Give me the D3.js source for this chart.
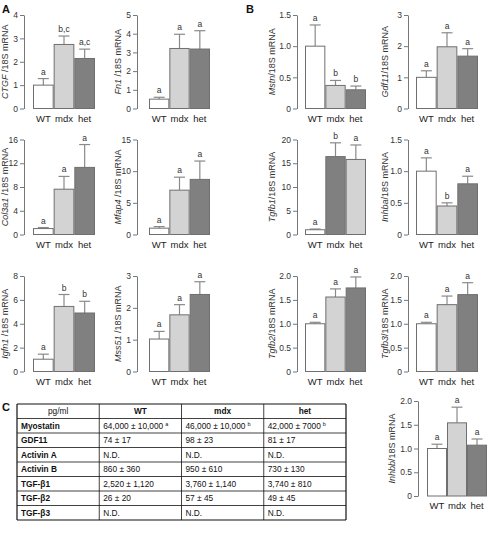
<!DOCTYPE html>
<html><head><meta charset="utf-8">
<script src="https://cdn.jsdelivr.net/npm/d3@7"></script>
<style>body{margin:0;background:#fff}svg{display:block}</style>
</head><body>
<svg id="c" width="501" height="545"></svg>
<script>
// ---------- DATA ----------
const categories = ["WT", "mdx", "het"];

// Panel A
const ctgfMean = [1.0, 2.74, 2.14];
const ctgfSem = [0.28, 0.36, 0.40];
const ctgfSig = ["a", "b,c", "a,c"];
const ctgfTicks = [0, 1, 2, 3, 4];

const fn1Mean = [0.50, 3.21, 3.18];
const fn1Sem = [0.10, 0.76, 0.98];
const fn1Sig = ["a", "a", "a"];
const fn1Ticks = [0, 1, 2, 3, 4, 5];

const col3a1Mean = [1.0, 7.63, 11.3];
const col3a1Sem = [0.17, 2.15, 3.85];
const col3a1Sig = ["a", "a", "a"];
const col3a1Ticks = [0, 4, 8, 12, 16];

const mfap4Mean = [1.0, 7.0, 8.7];
const mfap4Sem = [0.25, 2.05, 2.9];
const mfap4Sig = ["a", "a", "a"];
const mfap4Ticks = [0, 5, 10, 15];

const igfn1Mean = [1.03, 5.45, 4.9];
const igfn1Sem = [0.42, 1.0, 0.98];
const igfn1Sig = ["a", "b", "b"];
const igfn1Ticks = [0, 2, 4, 6, 8];

const mss51Mean = [1.02, 1.78, 2.42];
const mss51Sem = [0.24, 0.32, 0.40];
const mss51Sig = ["a", "a", "a"];
const mss51Ticks = [0, 1, 2, 3];

// Panel B
const mstnMean = [1.0, 0.37, 0.30];
const mstnSem = [0.34, 0.08, 0.06];
const mstnSig = ["a", "b", "b"];
const mstnTicks = [0, 0.5, 1.0, 1.5];

const gdf11Mean = [1.0, 1.98, 1.68];
const gdf11Sem = [0.21, 0.45, 0.24];
const gdf11Sig = ["a", "a", "a"];
const gdf11Ticks = [0, 1, 2, 3];

const tgfb1Mean = [1.0, 16.4, 15.8];
const tgfb1Sem = [0.15, 2.9, 3.05];
const tgfb1Sig = ["a", "b", "a"];
const tgfb1Ticks = [0, 5, 10, 15, 20];

const inhbaMean = [1.0, 0.45, 0.80];
const inhbaSem = [0.21, 0.05, 0.12];
const inhbaSig = ["a", "b", "a"];
const inhbaTicks = [0, 0.5, 1.0, 1.5];

const tgfb2Mean = [1.0, 1.56, 1.75];
const tgfb2Sem = [0.03, 0.17, 0.23];
const tgfb2Sig = ["a", "a", "a"];
const tgfb2Ticks = [0, 0.5, 1.0, 1.5, 2.0];

const tgfb3Mean = [1.0, 1.40, 1.61];
const tgfb3Sem = [0.03, 0.18, 0.25];
const tgfb3Sig = ["a", "a", "a"];
const tgfb3Ticks = [0, 0.5, 1.0, 1.5, 2.0];

const inhbbMean = [1.0, 1.54, 1.07];
const inhbbSem = [0.09, 0.33, 0.13];
const inhbbSig = ["a", "a", "a"];
const inhbbTicks = [0, 0.5, 1.0, 1.5, 2.0];

// Panel C (table)
const tableHeader = ["pg/ml", "WT", "mdx", "het"];
const tableRows = ["Myostatin", "GDF11", "Activin A", "Activin B", "TGF-β1", "TGF-β2", "TGF-β3"];
const tableWT = ["64,000 ± 10,000", "74 ± 17", "N.D.", "860 ± 360", "2,520 ± 1,120", "26 ± 20", "N.D."];
const tableWTSup = ["a", "", "", "", "", "", ""];
const tableMdx = ["46,000 ± 10,000", "98 ± 23", "N.D.", "950 ± 610", "3,760 ± 1,140", "57 ± 45", "N.D."];
const tableMdxSup = ["b", "", "", "", "", "", ""];
const tableHet = ["42,000 ± 7000", "81 ± 17", "N.D.", "730 ± 130", "3,740 ± 810", "49 ± 45", "N.D."];
const tableHetSup = ["b", "", "", "", "", "", ""];

// ---------- DRAWING ----------
const svg = d3.select("#c");
const FONT = "'Liberation Sans', Arial, Helvetica, sans-serif";
const WHITE = "#ffffff", LIGHT = "#d3d3d3", DARK = "#808080";
const normalFills = [WHITE, LIGHT, DARK];
const tgfb1Fills = [WHITE, DARK, LIGHT];

function panel(cfg) {
  const g = svg.append("g");
  const y = d3.scaleLinear().domain([0, d3.max(cfg.ticks)]).range([cfg.bottom, cfg.top]);
  const x = d3.scaleBand().domain(categories).range(cfg.bars).padding(0);
  const dec = cfg.ticks.some(t => !Number.isInteger(t));
  const axis = d3.axisLeft(y).tickValues(cfg.ticks)
    .tickFormat(d => d === 0 ? "0" : (dec ? d.toFixed(1) : String(d)))
    .tickSizeInner(4).tickSizeOuter(0).tickPadding(2);
  const ax = g.append("g").attr("transform", `translate(${cfg.axisX},0)`).call(axis);
  ax.select(".domain").attr("stroke", "#777").attr("stroke-width", 1);
  ax.selectAll(".tick line").attr("stroke", "#777");
  ax.selectAll(".tick text").attr("fill", "#333").style("font-family", FONT).style("font-size", "8.5px");

  const data = categories.map((c, i) => ({c, m: cfg.mean[i], s: cfg.sem[i], sig: cfg.sig[i], fill: cfg.fills[i]}));
  const cx = d => x(d.c) + x.bandwidth() / 2;

  g.selectAll(".err").data(data).enter().append("line")
    .attr("x1", cx).attr("x2", cx)
    .attr("y1", d => y(d.m)).attr("y2", d => y(d.m + d.s))
    .attr("stroke", "#8a8a8a").attr("stroke-width", 1.2);
  g.selectAll(".cap").data(data).enter().append("line")
    .attr("x1", d => cx(d) - 5.5).attr("x2", d => cx(d) + 5.5)
    .attr("y1", d => y(d.m + d.s)).attr("y2", d => y(d.m + d.s))
    .attr("stroke", "#8a8a8a").attr("stroke-width", 1.2);

  g.selectAll(".bar").data(data).enter().append("rect")
    .attr("x", d => x(d.c) + 0.5).attr("width", x.bandwidth() - 1)
    .attr("y", d => y(d.m)).attr("height", d => y(0) - y(d.m))
    .attr("fill", d => d.fill).attr("stroke", "#6f6f6f").attr("stroke-width", 1);

  g.selectAll(".sig").data(data).enter().append("text")
    .attr("x", cx).attr("y", d => y(d.m + d.s) - 4)
    .attr("text-anchor", "middle").attr("fill", "#333")
    .style("font-family", FONT).style("font-size", "8.5px")
    .text(d => d.sig);

  g.selectAll(".cat").data(data).enter().append("text")
    .attr("x", cx).attr("y", cfg.bottom + 13)
    .attr("text-anchor", "middle").attr("fill", "#222")
    .style("font-family", FONT).style("font-size", "9.5px")
    .text(d => d.c);

  const lab = g.append("text")
    .attr("transform", `translate(${cfg.labelX},${(cfg.top + cfg.bottom) / 2}) rotate(-90)`)
    .attr("text-anchor", "middle").attr("dy", "0.35em").attr("fill", "#333")
    .style("font-family", FONT).style("font-size", cfg.labelSize + "px");
  lab.append("tspan").style("font-style", "italic").text(cfg.gene);
  lab.append("tspan").text(cfg.suffix);
}

const R1 = [15, 108.5], R2 = [139.5, 234.5], R3 = [276, 371.5], R4 = [401, 496];
const AL = {axisX: 24, bars: [33, 95], labelX: 5};
const AR = {axisX: 137, bars: [149, 210], labelX: 118};
const BL = {axisX: 297, bars: [305, 366], labelX: 272};
const BR = {axisX: 408, bars: [416, 478], labelX: 385};
const BI = {axisX: 418, bars: [427, 487], labelX: 392};
const sA = " /18S mRNA", sB = "/18S mRNA";

const panels = [
  {...AL, top: R1[0], bottom: R1[1], gene: "CTGF", suffix: sA, labelSize: 9, mean: ctgfMean, sem: ctgfSem, sig: ctgfSig, ticks: ctgfTicks, fills: normalFills},
  {...AR, top: R1[0], bottom: R1[1], gene: "Fn1", suffix: sA, labelSize: 9, mean: fn1Mean, sem: fn1Sem, sig: fn1Sig, ticks: fn1Ticks, fills: normalFills},
  {...AL, top: R2[0], bottom: R2[1], gene: "Col3a1", suffix: sA, labelSize: 9, mean: col3a1Mean, sem: col3a1Sem, sig: col3a1Sig, ticks: col3a1Ticks, fills: normalFills},
  {...AR, top: R2[0], bottom: R2[1], gene: "Mfap4", suffix: sA, labelSize: 9, mean: mfap4Mean, sem: mfap4Sem, sig: mfap4Sig, ticks: mfap4Ticks, fills: normalFills},
  {...AL, top: R3[0], bottom: R3[1], gene: "Igfn1", suffix: sA, labelSize: 9, mean: igfn1Mean, sem: igfn1Sem, sig: igfn1Sig, ticks: igfn1Ticks, fills: normalFills},
  {...AR, top: R3[0], bottom: R3[1], gene: "Mss51", suffix: sA, labelSize: 9, mean: mss51Mean, sem: mss51Sem, sig: mss51Sig, ticks: mss51Ticks, fills: normalFills},
  {...BL, top: R1[0], bottom: R1[1], gene: "Mstn", suffix: sB, labelSize: 9, mean: mstnMean, sem: mstnSem, sig: mstnSig, ticks: mstnTicks, fills: normalFills},
  {...BR, top: R1[0], bottom: R1[1], gene: "Gdf11", suffix: sB, labelSize: 9, mean: gdf11Mean, sem: gdf11Sem, sig: gdf11Sig, ticks: gdf11Ticks, fills: normalFills},
  {...BL, top: R2[0], bottom: R2[1], gene: "Tgfb1", suffix: sB, labelSize: 9, mean: tgfb1Mean, sem: tgfb1Sem, sig: tgfb1Sig, ticks: tgfb1Ticks, fills: tgfb1Fills},
  {...BR, top: R2[0], bottom: R2[1], gene: "Inhba", suffix: sB, labelSize: 9, mean: inhbaMean, sem: inhbaSem, sig: inhbaSig, ticks: inhbaTicks, fills: normalFills},
  {...BL, top: R3[0], bottom: R3[1], gene: "Tgfb2", suffix: sB, labelSize: 9, mean: tgfb2Mean, sem: tgfb2Sem, sig: tgfb2Sig, ticks: tgfb2Ticks, fills: normalFills},
  {...BR, top: R3[0], bottom: R3[1], gene: "Tgfb3", suffix: sB, labelSize: 9, mean: tgfb3Mean, sem: tgfb3Sem, sig: tgfb3Sig, ticks: tgfb3Ticks, fills: normalFills},
  {...BI, top: R4[0], bottom: R4[1], gene: "Inhbb", suffix: sB, labelSize: 9, mean: inhbbMean, sem: inhbbSem, sig: inhbbSig, ticks: inhbbTicks, fills: normalFills}
];
panels.forEach(panel);

[["A", 2, 13], ["B", 246, 13], ["C", 2, 411]].forEach(([t, px, py]) => {
  svg.append("text").attr("x", px).attr("y", py).text(t)
    .style("font-family", FONT).style("font-size", "11px").style("font-weight", "bold").attr("fill", "#111");
});

// ---------- TABLE ----------
const TFONT = "'Liberation Sans', Arial, sans-serif";
const tx = d3.scaleBand().domain(d3.range(4)).range([17, 346]);
const allRows = ["header"].concat(tableRows);
const ty = d3.scaleBand().domain(d3.range(allRows.length)).range([404, 520]);
const tg = svg.append("g");

d3.range(allRows.length + 1).forEach(i => {
  const yy = i < allRows.length ? ty(i) : ty.range()[1];
  tg.append("line").attr("x1", 17).attr("x2", 346).attr("y1", yy).attr("y2", yy)
    .attr("stroke", "#111").attr("stroke-width", (i === 0 || i === allRows.length) ? 1.2 : 0.8);
});
d3.range(5).forEach(j => {
  const xx = j < 4 ? tx(j) : tx.range()[1];
  tg.append("line").attr("x1", xx).attr("x2", xx).attr("y1", 404).attr("y2", 520)
    .attr("stroke", "#111").attr("stroke-width", (j === 0 || j === 4) ? 1.2 : 0.8);
});

tableHeader.forEach((h, j) => {
  tg.append("text").attr("x", tx(j) + tx.bandwidth() / 2).attr("y", ty(0) + ty.bandwidth() / 2)
    .attr("dy", "0.35em").attr("text-anchor", "middle").attr("fill", "#111")
    .style("font-family", TFONT).style("font-size", "8.3px")
    .style("font-weight", j === 0 ? "normal" : "bold").text(h);
});

const cols = [[tableWT, tableWTSup], [tableMdx, tableMdxSup], [tableHet, tableHetSup]];
tableRows.forEach((r, i) => {
  const yc = ty(i + 1) + ty.bandwidth() / 2;
  tg.append("text").attr("x", tx(0) + 4).attr("y", yc).attr("dy", "0.35em").attr("fill", "#111")
    .style("font-family", TFONT).style("font-size", "8.3px").style("font-weight", "bold").text(r);
  cols.forEach(([vals, sups], j) => {
    const t = tg.append("text").attr("x", tx(j + 1) + 4).attr("y", yc).attr("dy", "0.35em").attr("fill", "#111")
      .style("font-family", TFONT).style("font-size", "8.3px");
    t.append("tspan").text(vals[i]);
    if (sups[i]) t.append("tspan").attr("dx", 2).attr("dy", "-0.4em").style("font-size", "5.5px").text(sups[i]);
  });
});
</script>
</body></html>
